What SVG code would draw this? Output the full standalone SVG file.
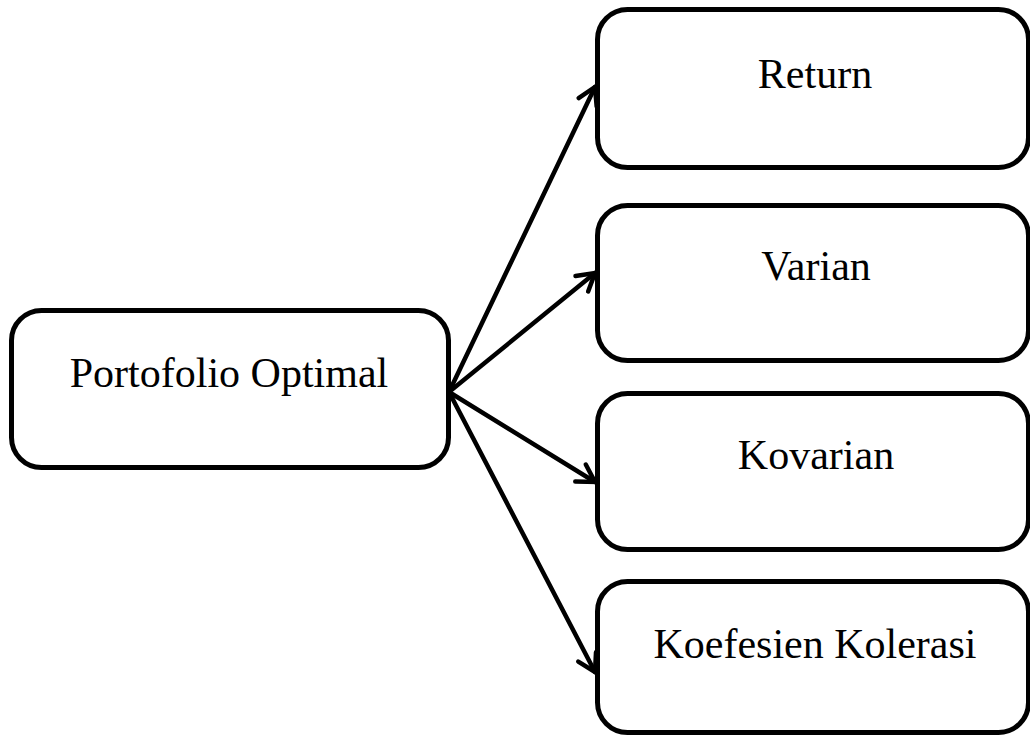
<svg xmlns="http://www.w3.org/2000/svg" width="1030" height="737" viewBox="0 0 1030 737">
  <style>
    .box { fill: #ffffff; stroke: #000000; stroke-width: 5; }
    .lbl { font-family: "Liberation Serif", "Times New Roman", serif; font-size: 42px; fill: #000000; text-anchor: middle; }
    .conn { stroke: #000000; stroke-width: 4.5; fill: none; stroke-linecap: round; }
  </style>
  <defs>
    <marker id="arrow" markerUnits="userSpaceOnUse" markerWidth="30" markerHeight="30" viewBox="-22 -15 26 30" refX="0" refY="0" orient="auto">
      <path d="M-17,-10 L0,0 L-17,10" fill="none" stroke="#000000" stroke-width="4.5" stroke-linecap="round" stroke-linejoin="miter"/>
    </marker>
  </defs>
  <rect width="1030" height="737" fill="#ffffff"/>
  <g id="connectors">
    <line class="conn" x1="449" y1="392" x2="595" y2="87" marker-end="url(#arrow)"/>
    <line class="conn" x1="449" y1="392" x2="595" y2="273" marker-end="url(#arrow)"/>
    <line class="conn" x1="449" y1="392" x2="595" y2="482" marker-end="url(#arrow)"/>
    <line class="conn" x1="449" y1="392" x2="595" y2="672" marker-end="url(#arrow)"/>
  </g>
  <g id="node-portofolio">
    <rect class="box" x="11.5" y="310.5" width="437" height="157" rx="30" ry="30"/>
    <text class="lbl" x="229" y="387">Portofolio Optimal</text>
  </g>
  <g id="node-return">
    <rect class="box" x="597.5" y="9.5" width="431" height="158" rx="30" ry="30"/>
    <text class="lbl" x="815" y="88">Return</text>
  </g>
  <g id="node-varian">
    <rect class="box" x="597.5" y="205.5" width="431" height="155" rx="30" ry="30"/>
    <text class="lbl" x="816" y="280">Varian</text>
  </g>
  <g id="node-kovarian">
    <rect class="box" x="597.5" y="393.5" width="431" height="156" rx="30" ry="30"/>
    <text class="lbl" x="816" y="469">Kovarian</text>
  </g>
  <g id="node-koefesien">
    <rect class="box" x="597.5" y="581.5" width="431" height="151" rx="30" ry="30"/>
    <text class="lbl" x="815" y="658">Koefesien Kolerasi</text>
  </g>
</svg>
